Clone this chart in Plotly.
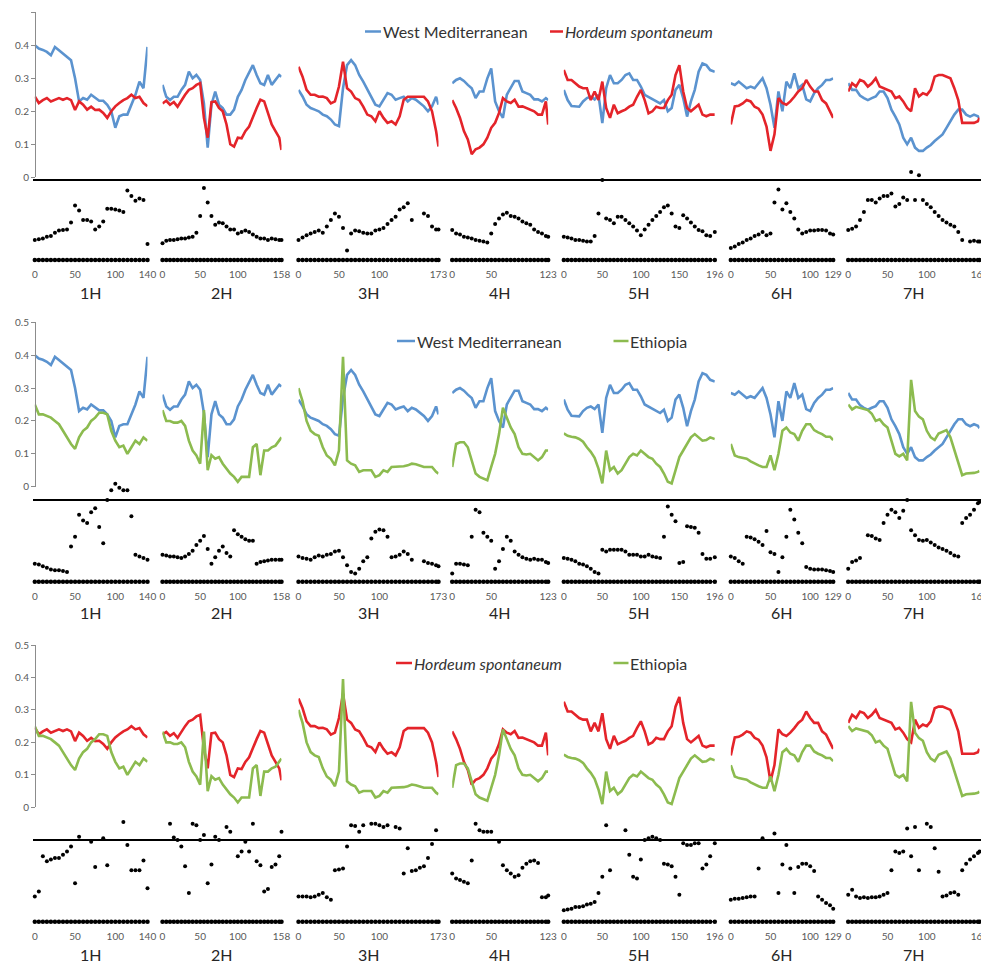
import plotly.graph_objects as go

# ---------------- data ----------------
CHROMS = ["1H", "2H", "3H", "4H", "5H", "6H", "7H"]
LENGTHS = [140, 158, 173, 123, 196, 129, 167]
TICKS_1H = [0, 50, 100, 140]
TICKS_2H = [0, 50, 100, 158]
TICKS_3H = [0, 50, 100, 173]
TICKS_4H = [0, 50, 123]
TICKS_5H = [0, 50, 100, 150, 196]
TICKS_6H = [0, 50, 100, 129]
TICKS_7H = [0, 50, 100, 167]

# marker positions (cM)
POS_1H = [0, 5, 10, 15, 20, 25, 30, 35, 40, 45, 50, 55, 60, 65, 70, 75, 80, 85, 90, 95, 100, 105, 110, 115, 120, 125, 130, 135, 140]
POS_2H = [0, 5, 10, 15, 20, 25, 30, 35, 40, 45, 50, 55, 60, 65, 70, 75, 80, 85, 90, 95, 100, 105, 110, 115, 120, 125, 130, 135, 140, 145, 150, 155, 158]
POS_3H = [0, 5, 10, 15, 20, 25, 30, 35, 40, 45, 50, 55, 60, 65, 70, 75, 80, 85, 90, 95, 100, 105, 110, 115, 120, 125, 130, 135, 140, 145, 150, 155, 160, 165, 170, 173]
POS_4H = [0, 5, 10, 15, 20, 25, 30, 35, 40, 45, 50, 55, 60, 65, 70, 75, 80, 85, 90, 95, 100, 105, 110, 115, 120, 123]
POS_5H = [0, 5, 10, 15, 20, 25, 30, 35, 40, 45, 50, 55, 60, 65, 70, 75, 80, 85, 90, 95, 100, 105, 110, 115, 120, 125, 130, 135, 140, 145, 150, 155, 160, 165, 170, 175, 180, 185, 190, 196]
POS_6H = [0, 5, 10, 15, 20, 25, 30, 35, 40, 45, 50, 55, 60, 65, 70, 75, 80, 85, 90, 95, 100, 105, 110, 115, 120, 125, 129]
POS_7H = [0, 5, 10, 15, 20, 25, 30, 35, 40, 45, 50, 55, 60, 65, 70, 75, 80, 85, 90, 95, 100, 105, 110, 115, 120, 125, 130, 135, 140, 145, 150, 155, 160, 165, 167]

# West Mediterranean
WM_1H = [0.40, 0.39, 0.386, 0.38, 0.37, 0.395, 0.385, 0.375, 0.365, 0.355, 0.30, 0.23, 0.24, 0.235, 0.25, 0.24, 0.232, 0.232, 0.22, 0.20, 0.15, 0.185, 0.19, 0.19, 0.22, 0.25, 0.29, 0.27, 0.395]
WM_2H = [0.28, 0.244, 0.234, 0.244, 0.244, 0.265, 0.28, 0.32, 0.30, 0.31, 0.295, 0.224, 0.09, 0.22, 0.26, 0.22, 0.21, 0.19, 0.19, 0.205, 0.244, 0.265, 0.295, 0.32, 0.34, 0.31, 0.285, 0.28, 0.31, 0.28, 0.295, 0.31, 0.305]
WM_3H = [0.265, 0.245, 0.22, 0.21, 0.205, 0.2, 0.19, 0.185, 0.175, 0.16, 0.155, 0.27, 0.34, 0.355, 0.34, 0.31, 0.29, 0.265, 0.24, 0.22, 0.215, 0.235, 0.255, 0.25, 0.235, 0.24, 0.244, 0.23, 0.24, 0.235, 0.225, 0.215, 0.2, 0.215, 0.244, 0.22]
WM_4H = [0.285, 0.295, 0.3, 0.292, 0.28, 0.27, 0.24, 0.26, 0.26, 0.3, 0.33, 0.23, 0.2, 0.18, 0.25, 0.27, 0.292, 0.292, 0.26, 0.255, 0.25, 0.236, 0.236, 0.23, 0.24, 0.234]
WM_5H = [0.265, 0.234, 0.216, 0.214, 0.214, 0.23, 0.24, 0.244, 0.236, 0.25, 0.164, 0.27, 0.31, 0.285, 0.285, 0.295, 0.31, 0.315, 0.295, 0.295, 0.275, 0.25, 0.244, 0.236, 0.23, 0.224, 0.234, 0.2, 0.21, 0.265, 0.28, 0.24, 0.184, 0.23, 0.265, 0.32, 0.345, 0.34, 0.325, 0.32]
WM_6H = [0.285, 0.28, 0.29, 0.28, 0.27, 0.275, 0.27, 0.285, 0.3, 0.27, 0.22, 0.15, 0.26, 0.2, 0.29, 0.27, 0.315, 0.27, 0.28, 0.236, 0.23, 0.255, 0.27, 0.28, 0.295, 0.295, 0.3]
WM_7H = [0.285, 0.265, 0.265, 0.248, 0.24, 0.234, 0.24, 0.245, 0.26, 0.26, 0.24, 0.205, 0.184, 0.16, 0.12, 0.1, 0.12, 0.09, 0.08, 0.08, 0.09, 0.098, 0.11, 0.12, 0.13, 0.15, 0.17, 0.19, 0.205, 0.205, 0.19, 0.184, 0.19, 0.185, 0.178]

# Hordeum spontaneum
HS_1H = [0.245, 0.225, 0.234, 0.24, 0.23, 0.235, 0.24, 0.235, 0.24, 0.234, 0.204, 0.23, 0.22, 0.205, 0.214, 0.204, 0.205, 0.195, 0.18, 0.20, 0.215, 0.225, 0.234, 0.24, 0.25, 0.24, 0.244, 0.225, 0.215]
HS_2H = [0.224, 0.232, 0.22, 0.228, 0.214, 0.234, 0.25, 0.265, 0.27, 0.28, 0.285, 0.18, 0.12, 0.228, 0.23, 0.21, 0.2, 0.16, 0.1, 0.093, 0.12, 0.118, 0.14, 0.154, 0.184, 0.21, 0.235, 0.23, 0.195, 0.16, 0.14, 0.12, 0.083]
HS_3H = [0.335, 0.305, 0.265, 0.25, 0.25, 0.244, 0.245, 0.24, 0.224, 0.23, 0.275, 0.35, 0.27, 0.26, 0.24, 0.234, 0.214, 0.19, 0.185, 0.17, 0.2, 0.18, 0.165, 0.17, 0.16, 0.185, 0.235, 0.244, 0.244, 0.244, 0.244, 0.244, 0.23, 0.2, 0.14, 0.093]
HS_4H = [0.234, 0.21, 0.18, 0.14, 0.115, 0.07, 0.085, 0.09, 0.1, 0.12, 0.15, 0.165, 0.195, 0.24, 0.23, 0.225, 0.235, 0.214, 0.215, 0.21, 0.205, 0.2, 0.19, 0.19, 0.23, 0.16]
HS_5H = [0.325, 0.295, 0.295, 0.285, 0.275, 0.27, 0.27, 0.234, 0.26, 0.234, 0.29, 0.21, 0.18, 0.22, 0.194, 0.2, 0.205, 0.214, 0.22, 0.244, 0.265, 0.234, 0.194, 0.2, 0.214, 0.21, 0.21, 0.234, 0.25, 0.31, 0.34, 0.26, 0.21, 0.2, 0.21, 0.22, 0.19, 0.185, 0.19, 0.19]
HS_6H = [0.16, 0.215, 0.217, 0.224, 0.234, 0.23, 0.214, 0.208, 0.19, 0.154, 0.08, 0.13, 0.24, 0.225, 0.22, 0.23, 0.244, 0.26, 0.27, 0.295, 0.275, 0.26, 0.26, 0.234, 0.224, 0.2, 0.18]
HS_7H = [0.26, 0.285, 0.275, 0.295, 0.29, 0.275, 0.285, 0.3, 0.275, 0.27, 0.265, 0.26, 0.24, 0.245, 0.23, 0.21, 0.2, 0.27, 0.245, 0.255, 0.25, 0.265, 0.305, 0.31, 0.31, 0.305, 0.3, 0.27, 0.234, 0.165, 0.165, 0.165, 0.165, 0.17, 0.18]

# Ethiopia
ET_1H = [0.25, 0.22, 0.22, 0.215, 0.21, 0.2, 0.19, 0.17, 0.15, 0.13, 0.115, 0.15, 0.17, 0.18, 0.2, 0.21, 0.225, 0.225, 0.22, 0.17, 0.14, 0.12, 0.125, 0.1, 0.12, 0.14, 0.13, 0.15, 0.14]
ET_2H = [0.233, 0.2, 0.2, 0.195, 0.195, 0.2, 0.185, 0.14, 0.11, 0.095, 0.07, 0.233, 0.05, 0.096, 0.085, 0.09, 0.07, 0.055, 0.04, 0.03, 0.015, 0.03, 0.03, 0.03, 0.12, 0.13, 0.035, 0.11, 0.11, 0.12, 0.125, 0.14, 0.15]
ET_3H = [0.3, 0.26, 0.2, 0.17, 0.16, 0.155, 0.12, 0.095, 0.085, 0.065, 0.11, 0.395, 0.08, 0.07, 0.065, 0.045, 0.05, 0.05, 0.05, 0.03, 0.035, 0.05, 0.045, 0.06, 0.06, 0.06, 0.062, 0.065, 0.07, 0.068, 0.065, 0.06, 0.06, 0.06, 0.045, 0.04]
ET_4H = [0.06, 0.13, 0.135, 0.135, 0.12, 0.08, 0.04, 0.03, 0.025, 0.02, 0.06, 0.1, 0.16, 0.24, 0.21, 0.18, 0.16, 0.12, 0.1, 0.098, 0.1, 0.09, 0.08, 0.09, 0.11, 0.11]
ET_5H = [0.162, 0.155, 0.152, 0.15, 0.145, 0.137, 0.12, 0.106, 0.088, 0.055, 0.01, 0.11, 0.05, 0.06, 0.04, 0.05, 0.07, 0.09, 0.1, 0.095, 0.11, 0.1, 0.09, 0.085, 0.07, 0.06, 0.04, 0.015, 0.01, 0.05, 0.09, 0.11, 0.13, 0.15, 0.16, 0.15, 0.14, 0.142, 0.15, 0.145]
ET_6H = [0.13, 0.095, 0.09, 0.088, 0.085, 0.077, 0.07, 0.065, 0.06, 0.06, 0.095, 0.05, 0.1, 0.17, 0.18, 0.165, 0.16, 0.14, 0.17, 0.19, 0.19, 0.172, 0.165, 0.16, 0.152, 0.152, 0.142]
ET_7H = [0.25, 0.235, 0.243, 0.24, 0.237, 0.233, 0.222, 0.2, 0.205, 0.19, 0.18, 0.14, 0.1, 0.092, 0.1, 0.08, 0.325, 0.23, 0.213, 0.205, 0.17, 0.15, 0.142, 0.162, 0.168, 0.172, 0.15, 0.11, 0.07, 0.035, 0.04, 0.04, 0.042, 0.045, 0.048]

# per-marker statistic (relative scale: 0 = marker row, 1 = black reference line)
D1_1H = [0.25, 0.26, 0.27, 0.29, 0.3, 0.34, 0.37, 0.375, 0.38, 0.47, 0.68, 0.62, 0.5, 0.5, 0.48, 0.38, 0.42, 0.48, 0.64, 0.64, 0.63, 0.62, 0.6, 0.87, 0.8, 0.74, 0.77, 0.75, 0.2]
D1_2H = [0.21, 0.24, 0.25, 0.25, 0.26, 0.27, 0.27, 0.28, 0.29, 0.34, 0.55, 0.9, 0.72, 0.55, 0.44, 0.47, 0.46, 0.42, 0.38, 0.38, 0.33, 0.35, 0.37, 0.35, 0.32, 0.29, 0.27, 0.27, 0.25, 0.27, 0.26, 0.25, 0.25]
D1_3H = [0.25, 0.28, 0.31, 0.33, 0.35, 0.37, 0.34, 0.42, 0.5, 0.58, 0.54, 0.4, 0.12, 0.33, 0.37, 0.36, 0.34, 0.33, 0.33, 0.37, 0.38, 0.4, 0.45, 0.5, 0.54, 0.63, 0.66, 0.71, 0.5, None, None, 0.58, 0.55, 0.42, 0.38, 0.38]
D1_4H = [0.375, 0.33, 0.32, 0.29, 0.28, 0.27, 0.25, 0.24, 0.23, 0.22, 0.33, 0.45, 0.52, 0.57, 0.59, 0.55, 0.54, 0.52, 0.48, 0.46, 0.44, 0.38, 0.35, 0.33, 0.3, 0.29]
D1_5H = [0.29, 0.28, 0.27, 0.25, 0.25, 0.24, 0.23, 0.23, 0.3, 0.58, 1.0, 0.52, 0.5, 0.46, 0.54, 0.54, 0.5, 0.46, 0.42, 0.37, 0.31, 0.38, 0.44, 0.5, 0.55, 0.6, 0.66, 0.68, 0.58, 0.42, 0.4, 0.56, 0.52, 0.47, 0.42, 0.375, 0.36, 0.31, 0.3, 0.35]
D1_6H = [0.15, 0.17, 0.2, 0.22, 0.25, 0.27, 0.3, 0.32, 0.35, 0.31, 0.33, 0.72, 0.88, 0.63, 0.71, 0.6, 0.52, 0.38, 0.33, 0.35, 0.37, 0.37, 0.375, 0.375, 0.37, 0.33, 0.32]
D1_7H = [0.375, 0.39, 0.42, 0.5, 0.6, 0.75, 0.75, 0.72, 0.77, 0.8, 0.8, 0.83, 0.67, 0.7, 0.78, 0.75, 1.1, 0.75, 1.06, 0.75, 0.7, 0.66, 0.6, 0.55, 0.5, 0.47, 0.44, 0.42, 0.35, 0.25, None, 0.23, 0.24, 0.23, 0.23]

D2_1H = [0.22, 0.21, 0.19, 0.17, 0.15, 0.14, 0.14, 0.13, 0.12, 0.43, 0.55, 0.82, 0.75, 0.72, 0.85, 0.9, 0.67, 0.47, 1.0, 1.12, 1.2, 1.15, 1.12, 1.12, 0.8, 0.33, 0.31, 0.29, 0.27]
D2_2H = [0.33, 0.32, 0.31, 0.31, 0.3, 0.29, 0.31, 0.34, 0.38, 0.45, 0.5, 0.56, 0.4, 0.22, 0.3, 0.38, 0.43, 0.35, 0.31, 0.63, 0.58, 0.55, 0.52, 0.5, 0.5, 0.22, 0.24, 0.25, 0.26, 0.27, 0.27, 0.27, 0.27]
D2_3H = [0.31, 0.29, 0.28, 0.27, 0.3, 0.32, 0.31, 0.33, 0.34, 0.37, 0.38, 0.3, 0.2, 0.12, 0.1, 0.16, 0.25, 0.3, 0.53, 0.61, 0.64, 0.63, 0.55, 0.3, 0.31, 0.33, 0.37, 0.34, 0.27, None, None, 0.25, 0.23, 0.22, 0.2, 0.19]
D2_4H = [0.1, 0.22, 0.22, 0.21, 0.2, 0.55, 0.88, 0.85, 0.6, 0.55, 0.5, 0.16, 0.25, 0.4, 0.55, 0.5, 0.37, 0.33, 0.3, 0.28, 0.27, 0.28, 0.27, 0.27, 0.24, 0.23]
D2_5H = [0.29, 0.28, 0.27, 0.25, 0.22, 0.21, 0.19, 0.16, 0.12, 0.1, 0.39, 0.37, 0.39, 0.39, 0.39, 0.39, 0.37, 0.33, 0.33, 0.33, 0.31, 0.31, 0.33, 0.31, 0.3, 0.29, 0.55, 0.92, 0.82, 0.74, 0.23, 0.24, 0.68, 0.67, 0.66, 0.6, 0.34, 0.28, 0.28, 0.3]
D2_6H = [0.31, 0.29, 0.25, 0.22, 0.55, 0.54, 0.52, 0.49, 0.45, 0.62, 0.36, 0.34, 0.12, 0.3, 0.55, 0.88, 0.76, 0.6, 0.47, 0.18, 0.16, 0.15, 0.15, 0.15, 0.14, 0.13, 0.12]
D2_7H = [0.16, 0.24, 0.26, 0.29, None, 0.57, 0.56, 0.53, 0.51, 0.72, 0.82, 0.88, 0.85, 0.78, 0.87, 1.0, 0.63, 0.57, 0.51, 0.5, 0.51, 0.48, 0.45, 0.42, 0.4, 0.38, 0.35, 0.32, 0.31, 0.72, 0.78, 0.82, 0.88, 0.96, 0.98]

D3_1H = [0.31, 0.37, 0.8, 0.74, 0.76, 0.78, 0.78, 0.82, 0.86, 0.92, 0.47, 1.04, None, None, 0.98, 0.67, None, 1.02, 0.69, None, None, None, 1.22, 0.94, 0.63, 0.63, 0.63, 0.75, 0.41]
D3_2H = [None, None, 1.2, 1.03, 1.0, 0.92, 0.68, 0.35, 1.2, 1.18, 1.0, 1.06, 0.47, 0.7, 1.04, 1.0, None, 1.16, 1.1, None, 0.8, 0.86, 0.98, 0.86, 1.2, 0.74, 0.69, 0.37, 0.4, 0.67, 0.7, 0.8, 1.1]
D3_3H = [0.31, 0.31, 0.31, 0.3, 0.31, 0.33, 0.35, 0.3, 0.27, 0.63, 0.64, 0.65, 0.92, 1.18, 1.17, 1.1, 1.18, None, 1.2, 1.2, 1.18, 1.16, 1.18, None, 1.16, 1.14, 0.59, 0.9, 0.62, 0.63, 0.66, 0.68, 0.78, 0.95, 1.12, None]
D3_4H = [0.59, 0.53, 0.51, 0.49, 0.47, 0.75, 1.2, 1.12, 1.1, 1.1, 1.1, None, 0.98, 0.69, 0.63, 0.59, 0.55, 0.57, 0.66, 0.71, 0.74, 0.75, 0.72, 0.3, 0.3, 0.32]
D3_5H = [0.14, 0.15, 0.16, 0.18, 0.18, 0.19, 0.21, 0.22, 0.24, 0.35, 0.55, 1.18, 0.63, None, None, None, 1.12, 0.82, 0.55, 0.53, 0.76, 1.0, 1.02, 1.04, 1.02, 1.0, 0.71, 0.7, 0.68, 0.55, 0.33, 0.96, 0.94, 0.94, 0.96, 0.96, 0.65, 0.7, 0.8, 0.96]
D3_6H = [0.27, 0.28, 0.28, 0.29, 0.3, 0.31, 0.31, 0.65, 1.02, None, None, 1.08, 0.35, 0.7, 0.94, 0.65, 0.35, 0.67, 0.71, 0.71, 0.68, 0.62, 0.31, 0.27, 0.23, 0.2, 0.16]
D3_7H = [0.33, 0.39, 0.31, 0.29, 0.3, 0.29, 0.3, 0.3, 0.31, 0.33, 0.35, 0.63, 0.86, 0.84, 0.86, 1.14, 0.8, 1.16, 0.63, None, 1.2, 1.16, 0.9, 0.61, 0.31, 0.32, 0.35, 0.36, 0.33, 0.63, 0.71, 0.76, 0.8, 0.84, 0.86]

POS = [POS_1H, POS_2H, POS_3H, POS_4H, POS_5H, POS_6H, POS_7H]
TICKS = [TICKS_1H, TICKS_2H, TICKS_3H, TICKS_4H, TICKS_5H, TICKS_6H, TICKS_7H]
WM = [WM_1H, WM_2H, WM_3H, WM_4H, WM_5H, WM_6H, WM_7H]
HS = [HS_1H, HS_2H, HS_3H, HS_4H, HS_5H, HS_6H, HS_7H]
ET = [ET_1H, ET_2H, ET_3H, ET_4H, ET_5H, ET_6H, ET_7H]
D1 = [D1_1H, D1_2H, D1_3H, D1_4H, D1_5H, D1_6H, D1_7H]
D2 = [D2_1H, D2_2H, D2_3H, D2_4H, D2_5H, D2_6H, D2_7H]
D3 = [D3_1H, D3_2H, D3_3H, D3_4H, D3_5H, D3_6H, D3_7H]

# ---------------- layout constants (target pixel positions) ----------------
PAGE_OFF = 8                      # default page margin of the html body
W, H = 989 - PAGE_OFF, 967 - PAGE_OFF
# pixel span (start, end) of each chromosome's axis
CHROM_SPAN_PX = [(34.8, 147.5), (162.5, 281.5), (298.5, 438.5), (452.2, 548.2),
                 (563.8, 714.8), (730.8, 833.2), (848.2, 979.5)]
YAXIS_X_PX = 35

BLUE = "#5B93CF"
RED = "#E4242A"
GREEN = "#8CBB4F"
FONT = "Lato"
GRAY = "#595959"
LEG_TEXT = "#333333"


def fx(px):
    return (px - PAGE_OFF) / W


def fy(px):
    return 1 - (px - PAGE_OFF) / H


# legend entries: (label, colour, sample start px, sample end px, text start px)
PANELS = [
    dict(series=[("West Mediterranean", WM, BLUE), ("Hordeum spontaneum", HS, RED)],
         dots=D1, line_px=(12.3, 177.3), ref_px=180.0, row_px=260.0, label_px=293,
         legend_y=31.5,
         legend=[("West Mediterranean", BLUE, 365, 381, 382),
                 ("<i>Hordeum spontaneum</i>", RED, 550, 563, 563.5)]),
    dict(series=[("West Mediterranean", WM, BLUE), ("Ethiopia", ET, GREEN)],
         dots=D2, line_px=(322.3, 486.7), ref_px=500.0, row_px=581.7, label_px=612,
         legend_y=341,
         legend=[("West Mediterranean", BLUE, 397, 415, 415.5),
                 ("Ethiopia", GREEN, 613.5, 628.5, 629)]),
    dict(series=[("Hordeum spontaneum", HS, RED), ("Ethiopia", ET, GREEN)],
         dots=D3, line_px=(645.0, 807.3), ref_px=840.0, row_px=921.7, label_px=954,
         legend_y=663,
         legend=[("<i>Hordeum spontaneum</i>", RED, 396, 412, 412.5),
                 ("Ethiopia", GREEN, 613.5, 628.5, 629)]),
]

DOT_RANGE = [-0.09, 1.35]

fig = go.Figure()
layout = dict(
    width=W, height=H, margin=dict(l=0, r=0, t=0, b=0, autoexpand=False),
    paper_bgcolor="white", plot_bgcolor="rgba(0,0,0,0)",
    font=dict(family=FONT, color=GRAY), showlegend=False,
    shapes=[], annotations=[],
)

for i, P in enumerate(PANELS):
    ya_line = "y" if i == 0 else f"y{2 * i + 1}"
    ya_dot = f"y{2 * i + 2}"

    for c in range(7):
        n = i * 7 + c + 1
        xa = "x" if n == 1 else f"x{n}"
        xkey = "xaxis" if n == 1 else f"xaxis{n}"
        pos = POS[c]

        for name, data, color in P["series"]:
            fig.add_trace(go.Scatter(x=pos, y=data[c], mode="lines", name=name,
                                     line=dict(color=color, width=2.6),
                                     xaxis=xa, yaxis=ya_line, showlegend=False,
                                     cliponaxis=False, hoverinfo="skip"))

        fig.add_trace(go.Scatter(x=pos, y=P["dots"][c], mode="markers", showlegend=False,
                                 marker=dict(color="black", size=4), cliponaxis=False,
                                 xaxis=xa, yaxis=ya_dot, hoverinfo="skip"))
        fig.add_trace(go.Scatter(x=pos, y=[0 for _ in pos], mode="lines+markers",
                                 showlegend=False, cliponaxis=False,
                                 line=dict(color="black", width=1),
                                 marker=dict(color="black", size=4.5),
                                 xaxis=xa, yaxis=ya_dot, hoverinfo="skip"))

        x0, x1 = CHROM_SPAN_PX[c]
        layout[xkey] = dict(range=[0, LENGTHS[c]], domain=[fx(x0), fx(x1)], anchor=ya_dot,
                            automargin=False, showgrid=False, zeroline=False, showline=False,
                            ticks="", tickangle=0, tickvals=TICKS[c],
                            ticktext=[str(t) for t in TICKS[c]],
                            tickfont=dict(size=10, color=GRAY, family=FONT))

        layout["annotations"].append(dict(text=CHROMS[c], xref=xa, yref="paper",
                                          x=LENGTHS[c] / 2, y=fy(P["label_px"]),
                                          showarrow=False, xanchor="center", yanchor="middle",
                                          font=dict(size=16, color="#262626", family=FONT)))

    top, bot = P["line_px"]
    lkey = "yaxis" if i == 0 else f"yaxis{2 * i + 1}"
    layout[lkey] = dict(range=[0, 0.5], domain=[fy(bot), fy(top)], anchor="free",
                        position=fx(YAXIS_X_PX), showgrid=False, zeroline=False,
                        automargin=False, showline=True, linecolor="#8C8C8C", linewidth=1,
                        ticks="outside", ticklen=4, tickcolor="#8C8C8C",
                        tickvals=[0, 0.1, 0.2, 0.3, 0.4, 0.5],
                        ticktext=["0", "0.1", "0.2", "0.3", "0.4", "0.5"],
                        tickfont=dict(size=10, color=GRAY, family=FONT))

    unit = P["row_px"] - P["ref_px"]
    dtop = P["ref_px"] - (DOT_RANGE[1] - 1) * unit
    dbot = P["row_px"] - DOT_RANGE[0] * unit
    dkey = f"yaxis{2 * i + 2}"
    layout[dkey] = dict(range=DOT_RANGE, domain=[fy(dbot), fy(dtop)], visible=False,
                        automargin=False)

    layout["shapes"].append(dict(type="line", xref="paper", yref=ya_dot,
                                 x0=fx(33), x1=fx(985), y0=1, y1=1, layer="below",
                                 line=dict(color="black", width=2)))

    # legend: short line sample + label
    ly = fy(P["legend_y"])
    for label, color, s0, s1, t0 in P["legend"]:
        layout["shapes"].append(dict(type="line", xref="paper", yref="paper",
                                     x0=fx(s0), x1=fx(s1), y0=ly, y1=ly,
                                     line=dict(color=color, width=2.5)))
        layout["annotations"].append(dict(text=label, xref="paper", yref="paper",
                                          x=fx(t0), y=ly, xanchor="left", yanchor="middle",
                                          showarrow=False, borderpad=0,
                                          font=dict(size=16, color=LEG_TEXT, family=FONT)))

fig.update_layout(**layout)
fig.write_html("out.html")
